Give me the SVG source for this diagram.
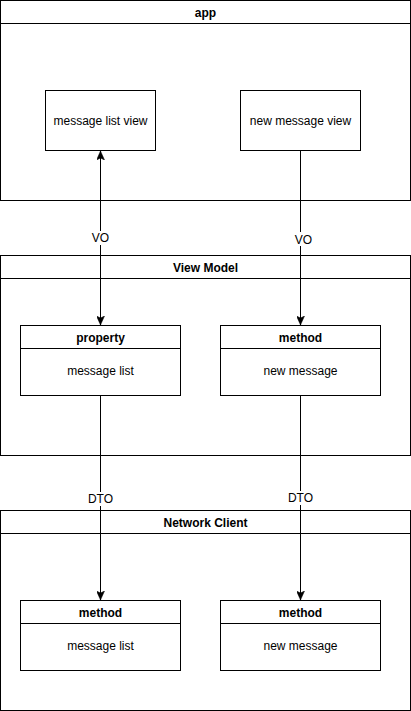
<svg xmlns="http://www.w3.org/2000/svg" width="411" height="711" viewBox="0 0 411 711">
<style>
.box{fill:#fff;stroke:#000;stroke-width:1}
.ln{fill:none;stroke:#000;stroke-width:1}
text{font-family:"Liberation Sans",Arial,sans-serif;font-size:12px;fill:#000;text-anchor:middle;dominant-baseline:central}
.b{font-weight:bold}
.lbl{fill:#fff}
</style>
<defs>
<marker id="ah" viewBox="0 0 10 8" refX="9" refY="4" markerWidth="10" markerHeight="8" markerUnits="userSpaceOnUse" orient="auto-start-reverse">
<path d="M0,0 L9,4 L0,8 L2,4 Z" fill="#000" stroke="#000" stroke-width="0.5"/>
</marker>
</defs>
<rect width="411" height="711" fill="#fff"/>
<g id="app">
<rect class="box" x="0.5" y="0.5" width="410" height="200"/>
<line class="ln" x1="0.5" y1="23.5" x2="410.5" y2="23.5"/>
<text class="b" x="205.5" y="13">app</text>
</g>
<g id="message-list-view">
<rect class="box" x="45.5" y="90.5" width="110" height="60"/>
<text x="100.5" y="121">message list view</text>
</g>
<g id="new-message-view">
<rect class="box" x="240.5" y="90.5" width="120" height="60"/>
<text x="300.5" y="121">new message view</text>
</g>
<g id="view-model">
<rect class="box" x="0.5" y="255.5" width="410" height="200"/>
<line class="ln" x1="0.5" y1="278.5" x2="410.5" y2="278.5"/>
<text class="b" x="205.5" y="268">View Model</text>
</g>
<g id="vm-property">
<rect class="box" x="20.5" y="325.5" width="160" height="70"/>
<line class="ln" x1="20.5" y1="348.5" x2="180.5" y2="348.5"/>
<text class="b" x="100.5" y="338">property</text>
<text x="100.5" y="371">message list</text>
</g>
<g id="vm-method">
<rect class="box" x="220.5" y="325.5" width="160" height="70"/>
<line class="ln" x1="220.5" y1="348.5" x2="380.5" y2="348.5"/>
<text class="b" x="300.5" y="338">method</text>
<text x="300.5" y="371">new message</text>
</g>
<g id="network-client">
<rect class="box" x="0.5" y="510.5" width="410" height="200"/>
<line class="ln" x1="0.5" y1="533.5" x2="410.5" y2="533.5"/>
<text class="b" x="205.5" y="523">Network Client</text>
</g>
<g id="nc-method-list">
<rect class="box" x="20.5" y="600.5" width="160" height="70"/>
<line class="ln" x1="20.5" y1="623.5" x2="180.5" y2="623.5"/>
<text class="b" x="100.5" y="613">method</text>
<text x="100.5" y="646">message list</text>
</g>
<g id="nc-method-new">
<rect class="box" x="220.5" y="600.5" width="160" height="70"/>
<line class="ln" x1="220.5" y1="623.5" x2="380.5" y2="623.5"/>
<text class="b" x="300.5" y="613">method</text>
<text x="300.5" y="646">new message</text>
</g>
<g id="connectors">
<line class="ln" x1="100.5" y1="151" x2="100.5" y2="325" marker-start="url(#ah)" marker-end="url(#ah)"/>
<line class="ln" x1="300.5" y1="150.5" x2="300.5" y2="325" marker-end="url(#ah)"/>
<line class="ln" x1="100.5" y1="395.5" x2="100.5" y2="600" marker-end="url(#ah)"/>
<line class="ln" x1="300.5" y1="395.5" x2="300.5" y2="600" marker-end="url(#ah)"/>
<rect class="lbl" x="92" y="231" width="17" height="14"/>
<text x="100.5" y="238">VO</text>
<rect class="lbl" x="292" y="232" width="17" height="14"/>
<text x="303.5" y="239.5">VO</text>
<rect class="lbl" x="89" y="492" width="23" height="14"/>
<text x="100.5" y="499">DTO</text>
<rect class="lbl" x="289" y="491" width="23" height="14"/>
<text x="300.5" y="498">DTO</text>
</g>
</svg>
